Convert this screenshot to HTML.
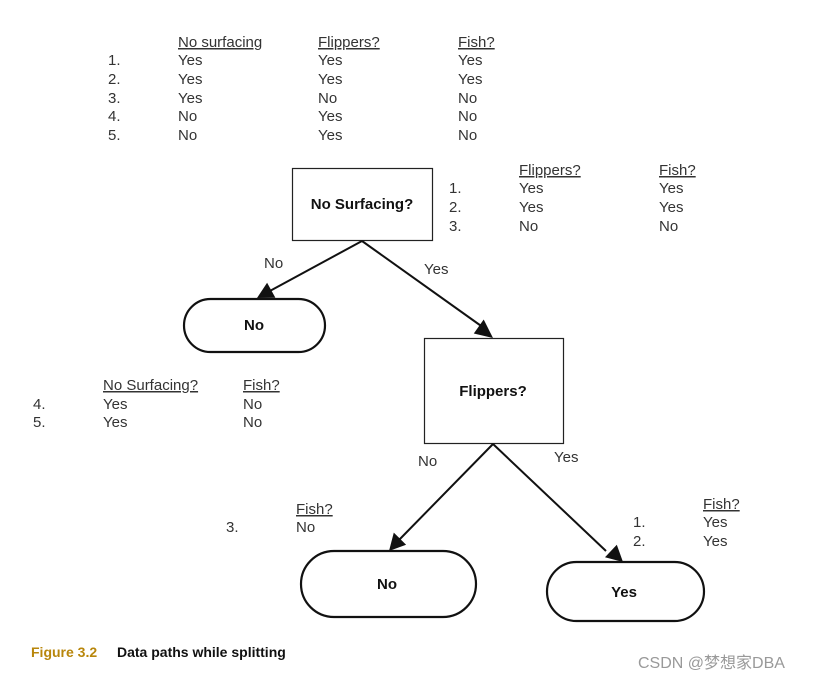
<!DOCTYPE html>
<html><head><meta charset="utf-8"><style>
html,body{margin:0;padding:0;background:#fff;}
svg{display:block;}
.t{font-family:"Liberation Sans",Arial,sans-serif;font-size:15px;fill:#333;}
.u{text-decoration:underline;}
.b{font-family:"Liberation Sans",Arial,sans-serif;font-size:15px;font-weight:bold;fill:#111;}
</style></head><body>
<svg width="821" height="680" viewBox="0 0 821 680" xmlns="http://www.w3.org/2000/svg">
<defs>
<marker id="ah" markerWidth="10" markerHeight="10" refX="9" refY="5" orient="auto" markerUnits="userSpaceOnUse" viewBox="0 0 10 10">
</marker>
</defs>
<g class="t">
<text x="178" y="47" class="u">No surfacing</text><text x="318" y="47" class="u">Flippers?</text><text x="458" y="47" class="u">Fish?</text>
<text x="108" y="65">1.</text><text x="178" y="65">Yes</text><text x="318" y="65">Yes</text><text x="458" y="65">Yes</text>
<text x="108" y="84">2.</text><text x="178" y="84">Yes</text><text x="318" y="84">Yes</text><text x="458" y="84">Yes</text>
<text x="108" y="103">3.</text><text x="178" y="103">Yes</text><text x="318" y="103">No</text><text x="458" y="103">No</text>
<text x="108" y="121">4.</text><text x="178" y="121">No</text><text x="318" y="121">Yes</text><text x="458" y="121">No</text>
<text x="108" y="140">5.</text><text x="178" y="140">No</text><text x="318" y="140">Yes</text><text x="458" y="140">No</text>

<text x="519" y="175" class="u">Flippers?</text><text x="659" y="175" class="u">Fish?</text>
<text x="449" y="193">1.</text><text x="519" y="193">Yes</text><text x="659" y="193">Yes</text>
<text x="449" y="212">2.</text><text x="519" y="212">Yes</text><text x="659" y="212">Yes</text>
<text x="449" y="231">3.</text><text x="519" y="231">No</text><text x="659" y="231">No</text>

<text x="264" y="268">No</text><text x="424" y="274">Yes</text>

<text x="103" y="390" class="u">No Surfacing?</text><text x="243" y="390" class="u">Fish?</text>
<text x="33" y="409">4.</text><text x="103" y="409">Yes</text><text x="243" y="409">No</text>
<text x="33" y="427">5.</text><text x="103" y="427">Yes</text><text x="243" y="427">No</text>

<text x="418" y="466">No</text><text x="554" y="462">Yes</text>

<text x="296" y="514" class="u">Fish?</text>
<text x="226" y="532">3.</text><text x="296" y="532">No</text>

<text x="703" y="509" class="u">Fish?</text>
<text x="633" y="527">1.</text><text x="703" y="527">Yes</text>
<text x="633" y="546">2.</text><text x="703" y="546">Yes</text>
</g>

<g fill="none" stroke="#222">
<rect x="292.5" y="168.5" width="140" height="72" stroke-width="1.2"/>
<rect x="424.5" y="338.5" width="139" height="105" stroke-width="1.2"/>
<rect x="184" y="299" width="141" height="53" rx="26.5" stroke-width="2.2" stroke="#111"/>
<rect x="301" y="551" width="175" height="66" rx="33" stroke-width="2.2" stroke="#111"/>
<rect x="547" y="562" width="157" height="59" rx="29.5" stroke-width="2.2" stroke="#111"/>
<g stroke="#111" stroke-width="2">
<line x1="362" y1="241" x2="268" y2="292"/>
<line x1="362" y1="241" x2="484" y2="328"/>
<line x1="493" y1="444" x2="398" y2="541"/>
<line x1="493" y1="444" x2="606" y2="551"/>
</g>
</g>
<g fill="#111">
<polygon points="257,298 267.1,282.8 275.4,297.8"/>
<polygon points="493,338 473.8,333.5 483.7,319.5"/>
<polygon points="389,551 393.8,532.6 406.1,544.7"/>
<polygon points="623,562 605,557.2 616.8,544.7"/>
</g>
<g class="b">
<text x="362" y="209" text-anchor="middle">No Surfacing?</text>
<text x="254" y="330" text-anchor="middle">No</text>
<text x="493" y="396" text-anchor="middle">Flippers?</text>
<text x="387" y="589" text-anchor="middle">No</text>
<text x="624" y="597" text-anchor="middle">Yes</text>
</g>
<text x="31" y="657" style="font-family:'Liberation Sans',Arial,sans-serif;font-size:14px;font-weight:bold;fill:#b8860b">Figure 3.2</text>
<text x="117" y="657" style="font-family:'Liberation Sans',Arial,sans-serif;font-size:14px;font-weight:bold;fill:#111">Data paths while splitting</text>
<text x="638" y="668" style="font-family:'Liberation Sans','Noto Sans CJK SC',sans-serif;font-size:16px;fill:#999">CSDN @梦想家DBA</text>
</svg>
</body></html>
